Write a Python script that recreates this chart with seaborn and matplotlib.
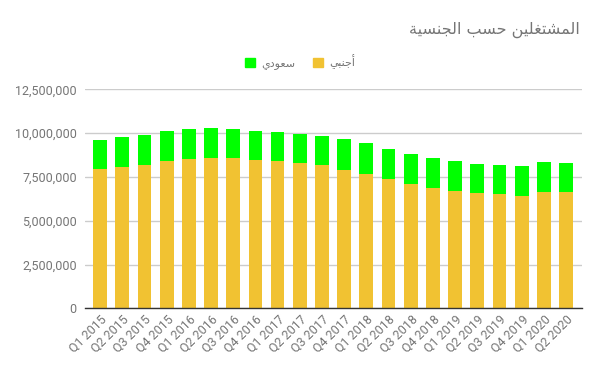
#Imports
import pandas as pd
import matplotlib.pyplot as plt
import matplotlib.ticker as mticker
from matplotlib.patches import Patch
import seaborn as sns

#Data
quarters = ['Q1 2015', 'Q2 2015', 'Q3 2015', 'Q4 2015', 'Q1 2016', 'Q2 2016',
            'Q3 2016', 'Q4 2016', 'Q1 2017', 'Q2 2017', 'Q3 2017', 'Q4 2017',
            'Q1 2018', 'Q2 2018', 'Q3 2018', 'Q4 2018', 'Q1 2019', 'Q2 2019',
            'Q3 2019', 'Q4 2019', 'Q1 2020', 'Q2 2020']
foreign = [7950000, 8070000, 8180000, 8410000, 8520000, 8580000, 8580000, 8460000,
           8410000, 8290000, 8180000, 7890000, 7660000, 7380000, 7100000, 6870000,
           6700000, 6580000, 6520000, 6410000, 6640000, 6640000]
saudi = [1660000, 1710000, 1710000, 1710000, 1710000, 1710000, 1650000, 1660000,
         1650000, 1660000, 1660000, 1770000, 1770000, 1710000, 1710000, 1710000,
         1710000, 1660000, 1660000, 1710000, 1710000, 1650000]

title_text = 'المشتغلين حسب الجنسية'
label_saudi = 'سعودي'
label_foreign = 'أجنبي'

#Simple arabic shaping (matplotlib has no bidi / joining support)
#letter: (isolated, final, initial, medial) - None where the letter can't join forward
forms = {
    'ا': ('\uFE8D', '\uFE8E', None, None),
    'أ': ('\uFE83', '\uFE84', None, None),
    'ب': ('\uFE8F', '\uFE90', '\uFE91', '\uFE92'),
    'ة': ('\uFE93', '\uFE94', None, None),
    'ت': ('\uFE95', '\uFE96', '\uFE97', '\uFE98'),
    'ج': ('\uFE9D', '\uFE9E', '\uFE9F', '\uFEA0'),
    'ح': ('\uFEA1', '\uFEA2', '\uFEA3', '\uFEA4'),
    'د': ('\uFEA9', '\uFEAA', None, None),
    'س': ('\uFEB1', '\uFEB2', '\uFEB3', '\uFEB4'),
    'ش': ('\uFEB5', '\uFEB6', '\uFEB7', '\uFEB8'),
    'ع': ('\uFEC9', '\uFECA', '\uFECB', '\uFECC'),
    'غ': ('\uFECD', '\uFECE', '\uFECF', '\uFED0'),
    'ل': ('\uFEDD', '\uFEDE', '\uFEDF', '\uFEE0'),
    'م': ('\uFEE1', '\uFEE2', '\uFEE3', '\uFEE4'),
    'ن': ('\uFEE5', '\uFEE6', '\uFEE7', '\uFEE8'),
    'و': ('\uFEED', '\uFEEE', None, None),
    'ي': ('\uFEF1', '\uFEF2', '\uFEF3', '\uFEF4'),
}


def shape_word(word):
    out = []
    for i, ch in enumerate(word):
        if ch not in forms:
            out.append(ch)
            continue
        prev = word[i - 1] if i > 0 else None
        nxt = word[i + 1] if i < len(word) - 1 else None
        join_prev = prev in forms and forms[prev][2] is not None
        join_next = nxt in forms and forms[ch][2] is not None
        iso, fin, ini, med = forms[ch]
        if join_prev and join_next:
            out.append(med)
        elif join_prev:
            out.append(fin)
        elif join_next:
            out.append(ini)
        else:
            out.append(iso)
    return ''.join(out)


def rtl(text):
    words = [shape_word(w)[::-1] for w in text.split(' ')]
    return ' '.join(words[::-1])


df = pd.DataFrame({'quarter': quarters, 'foreign': foreign, 'saudi': saudi})
df['total'] = df['foreign'] + df['saudi']

yellow = '#f1c232'
green = '#00ff00'
grey = '#757575'

sns.set_style('white')
plt.rcParams['font.family'] = ['Roboto', 'DejaVu Sans']

fig = plt.figure(figsize=(6, 3.71), dpi=100)
ax = fig.add_axes([0.1417, 0.1685, 0.8283, 0.5908])

#Stacked bars: total in green, foreign part in yellow on top of it
sns.barplot(data=df, x='quarter', y='total', color=green, saturation=1, width=0.62,
            linewidth=0, ax=ax)
sns.barplot(data=df, x='quarter', y='foreign', color=yellow, saturation=1, width=0.62,
            linewidth=0, ax=ax)

ax.set_ylim(0, 12500000)
ax.set_xlim(-0.68, 21.72)
ax.yaxis.set_major_locator(mticker.MultipleLocator(2500000))
ax.yaxis.set_major_formatter(mticker.StrMethodFormatter('{x:,.0f}'))
ax.grid(axis='y', color='#cccccc', linewidth=1)
ax.set_axisbelow(True)
ax.set_xlabel('')
ax.set_ylabel('')

for side in ['top', 'right', 'left']:
    ax.spines[side].set_visible(False)
ax.spines['bottom'].set_color('#333333')
ax.spines['bottom'].set_linewidth(1)
ax.spines['bottom'].set_zorder(5)

ax.tick_params(axis='both', length=0, colors=grey, labelsize=9)
ax.tick_params(axis='y', pad=6)
ax.tick_params(axis='x', pad=3)
plt.setp(ax.get_xticklabels(), rotation=45, ha='right', rotation_mode='anchor')

#Title and legend
fig.text(0.967, 1 - 30 / 371, rtl(title_text), ha='right', va='center',
         fontsize=11.5, color=grey, family='DejaVu Sans')
handles = [Patch(facecolor=green, edgecolor=green), Patch(facecolor=yellow, edgecolor=yellow)]
leg = fig.legend(handles, [rtl(label_saudi), rtl(label_foreign)], loc='center',
                 bbox_to_anchor=(0.5, 1 - 62 / 371), ncol=2, frameon=False,
                 handlelength=0.9, handleheight=0.9, handletextpad=0.6, columnspacing=1.6,
                 prop={'family': 'DejaVu Sans', 'size': 8})
for t in leg.get_texts():
    t.set_color(grey)

fig.savefig('out.png', dpi=100)
